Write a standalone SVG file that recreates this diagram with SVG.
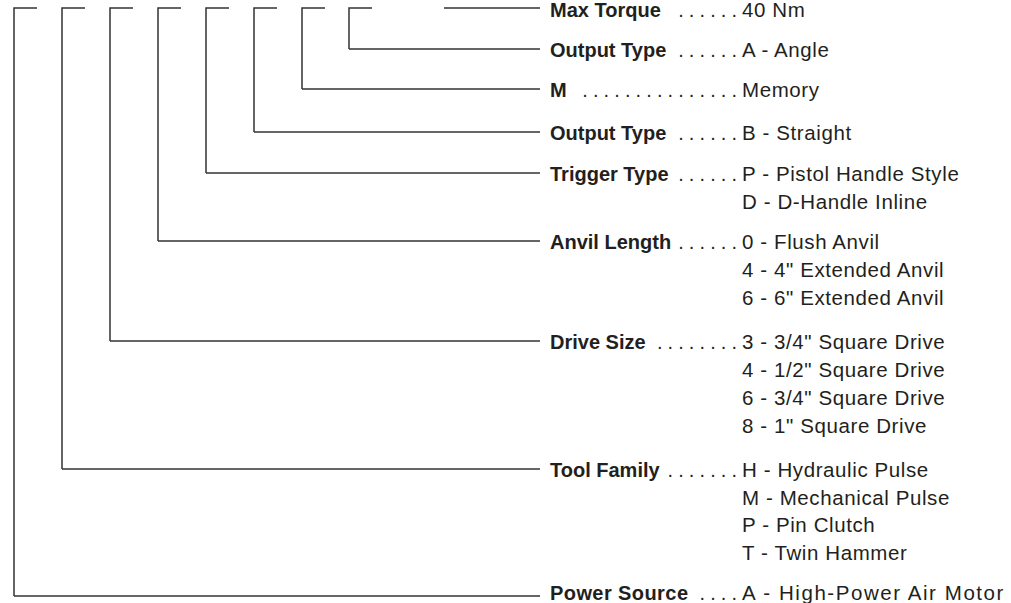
<svg xmlns="http://www.w3.org/2000/svg" width="1011" height="603" viewBox="0 0 1011 603">
<style>
.ln{fill:none;stroke:#333;stroke-width:1.5}
.lb{font-family:"Liberation Sans",Arial,sans-serif;font-weight:bold;font-size:20px;fill:#231f20}
.v{font-family:"Liberation Sans",Arial,sans-serif;font-size:20.5px;letter-spacing:0.6px;fill:#231f20}
.d{font-family:"Liberation Sans",Arial,sans-serif;font-size:20px;letter-spacing:5.1px;fill:#231f20}
</style>
<rect width="1011" height="603" fill="#fff"/>
<g id="connectors">
<path class="ln" d="M14,596 V8 H37 M14,596 H540"/>
<path class="ln" d="M62,469 V8 H85 M62,469 H540"/>
<path class="ln" d="M110,341 V8 H133 M110,341 H540"/>
<path class="ln" d="M158,241 V8 H181 M158,241 H540"/>
<path class="ln" d="M206,173 V8 H229 M206,173 H540"/>
<path class="ln" d="M254,132 V8 H277 M254,132 H540"/>
<path class="ln" d="M302,89 V8 H325 M302,89 H540"/>
<path class="ln" d="M349,49 V8 H372 M349,49 H540"/>
<path class="ln" d="M444,8 H540"/>
</g>
<g id="max-torque">
<text class="lb" x="550" y="17">Max Torque</text>
<text class="d" x="678.2" y="17">......</text>
<text class="v" x="742" y="17">40 Nm</text>
</g>
<g id="output-type-a">
<text class="lb" x="550" y="57">Output Type</text>
<text class="d" x="678.2" y="57">......</text>
<text class="v" x="742" y="57">A - Angle</text>
</g>
<g id="memory">
<text class="lb" x="550" y="97">M</text>
<text class="d" x="582.3" y="97">...............</text>
<text class="v" x="742" y="97">Memory</text>
</g>
<g id="output-type-b">
<text class="lb" x="550" y="140">Output Type</text>
<text class="d" x="678.2" y="140">......</text>
<text class="v" x="742" y="140">B - Straight</text>
</g>
<g id="trigger-type">
<text class="lb" x="550" y="181">Trigger Type</text>
<text class="d" x="678.2" y="181">......</text>
<text class="v" x="742" y="181">P - Pistol Handle Style</text>
<text class="v" x="742" y="209">D - D-Handle Inline</text>
</g>
<g id="anvil-length">
<text class="lb" x="550" y="249">Anvil Length</text>
<text class="d" x="678.2" y="249">......</text>
<text class="v" x="742" y="249">0 - Flush Anvil</text>
<text class="v" x="742" y="277">4 - 4" Extended Anvil</text>
<text class="v" x="742" y="305">6 - 6" Extended Anvil</text>
</g>
<g id="drive-size">
<text class="lb" x="550" y="349">Drive Size</text>
<text class="d" x="656.9" y="349">........</text>
<text class="v" x="742" y="349">3 - 3/4" Square Drive</text>
<text class="v" x="742" y="377">4 - 1/2" Square Drive</text>
<text class="v" x="742" y="405">6 - 3/4" Square Drive</text>
<text class="v" x="742" y="433">8 - 1" Square Drive</text>
</g>
<g id="tool-family">
<text class="lb" x="550" y="477">Tool Family</text>
<text class="d" x="667.5" y="477">.......</text>
<text class="v" x="742" y="477">H - Hydraulic Pulse</text>
<text class="v" x="742" y="505">M - Mechanical Pulse</text>
<text class="v" x="742" y="532">P - Pin Clutch</text>
<text class="v" x="742" y="560">T - Twin Hammer</text>
</g>
<g id="power-source">
<text class="lb" x="550" y="600" textLength="138" lengthAdjust="spacing">Power Source</text>
<text class="d" x="699.5" y="600">....</text>
<text class="v" x="742" y="600" textLength="262" lengthAdjust="spacing">A - High-Power Air Motor</text>
</g>
</svg>
